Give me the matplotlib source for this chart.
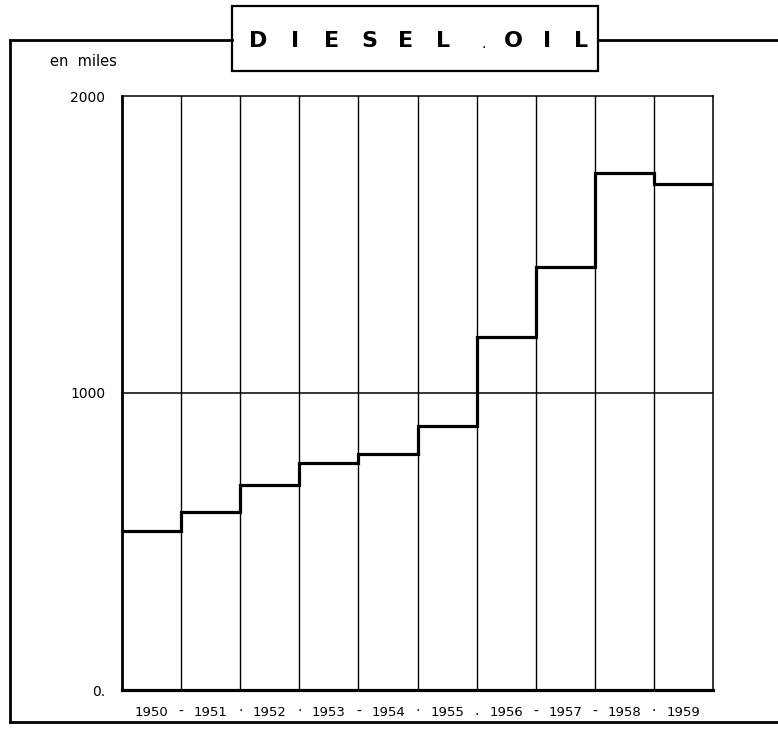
import numpy as np
import matplotlib
matplotlib.use('Agg')
import matplotlib.pyplot as plt
from matplotlib.lines import Line2D
from matplotlib.patches import Rectangle

# datos (miles)
years = [1950, 1951, 1952, 1953, 1954, 1955, 1956, 1957, 1958, 1959]
diesel = [535, 600, 690, 765, 795, 890, 1190, 1425, 1740, 1705]
seps = ['-', '·', '·', '-', '·', '.', '-', '-', '·']
yticks = [0, 1000, 2000]
ytick_labels = ['0.', '1000', '2000']
title_letters = ['D', 'I', 'E', 'S', 'E', 'L', 'O', 'I', 'L']

W, H = 778, 730


def fx(x):
    return x / W


def fy(y):
    return 1 - y / H


fig = plt.figure(figsize=(W / 100, H / 100), dpi=100)
ax = fig.add_axes([fx(122), fy(690), fx(713) - fx(122), fy(96) - fy(690)])

edges = np.arange(years[0], years[-1] + 2)
ax.stairs(diesel, edges, baseline=None, color='black', lw=2.3)

for e in edges[1:-1]:
    ax.axvline(e, color='black', lw=1.0, zorder=1)
ax.axhline(1000, color='black', lw=1.1, zorder=1)

ax.set_xlim(edges[0], edges[-1])
ax.set_ylim(0, 2000)
ax.set_yticks(yticks)
ax.set_yticklabels(ytick_labels, fontsize=10)
ax.set_xticks(np.array(years) + 0.5)
ax.set_xticklabels([str(y) for y in years], fontsize=9.5)
ax.tick_params(length=0, pad=12)
ax.tick_params(axis='x', pad=11.5)

for i, s in enumerate(seps):
    ax.text(years[i] + 1, -0.036, s, transform=ax.get_xaxis_transform(),
            ha='center', va='center', fontsize=10)

ax.spines['top'].set_linewidth(1.1)
ax.spines['right'].set_linewidth(1.1)
ax.spines['left'].set_linewidth(2.0)
ax.spines['bottom'].set_linewidth(2.3)

fig.text(fx(50), fy(62), 'en  miles', fontsize=10.5, va='center', ha='left')

# marco exterior
lk = dict(color='black', lw=2.0, transform=fig.transFigure)
fig.add_artist(Line2D([fx(10), fx(232)], [fy(40), fy(40)], **lk))
fig.add_artist(Line2D([fx(598), fx(778)], [fy(40), fy(40)], **lk))
fig.add_artist(Line2D([fx(10), fx(10)], [fy(40), fy(722)], **lk))
fig.add_artist(Line2D([fx(10), fx(778)], [fy(722), fy(722)], **lk))
fig.add_artist(Rectangle((fx(232), fy(71)), fx(598) - fx(232), fy(6) - fy(71),
                         fill=False, ec='black', lw=1.6, transform=fig.transFigure))

# titulo con letras espaciadas
letter_x = [258, 295, 332, 369, 406, 443, 513, 547, 581]
for lx, ch in zip(letter_x, title_letters):
    fig.text(fx(lx), fy(41), ch, fontsize=16, fontweight='bold',
             ha='center', va='center')
fig.text(fx(484), fy(44), '.', fontsize=10, ha='center', va='center')

fig.savefig('out.png', dpi=100)
